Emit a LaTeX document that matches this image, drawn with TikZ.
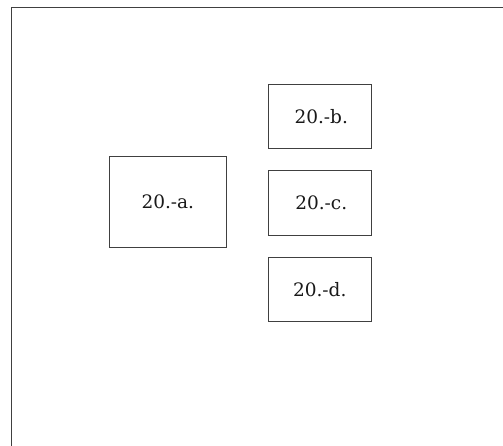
\documentclass[tikz,border=0pt]{standalone}
\usepackage{fontspec}
\setmainfont{DejaVu Serif}
\begin{document}
\begin{tikzpicture}[x=1pt,y=-1pt,
  box/.style={draw=black!75, line width=1pt, fill=white, inner sep=0pt, font=\fontsize{18.5}{22}\selectfont, text=black!90},
  frame/.style={draw=black!75, line width=1.6pt}]
\useasboundingbox (0,0) rectangle (503,446);
\draw[frame] (11.5,450) -- (11.5,7.5) -- (510,7.5);
\node[box, minimum width=117pt, minimum height=91pt] (a) at (167.8,201.6) {20.-a.};
\node[box, minimum width=103.3pt, minimum height=64.3pt] (b) at (319.7,116.2) {\,20.-b.};
\node[box, minimum width=103.3pt, minimum height=64.3pt] (c) at (319.7,202.9) {\,20.-c.};
\node[box, minimum width=103.3pt, minimum height=64.3pt] (d) at (319.7,289.5) {20.-d.};
\end{tikzpicture}
\end{document}
